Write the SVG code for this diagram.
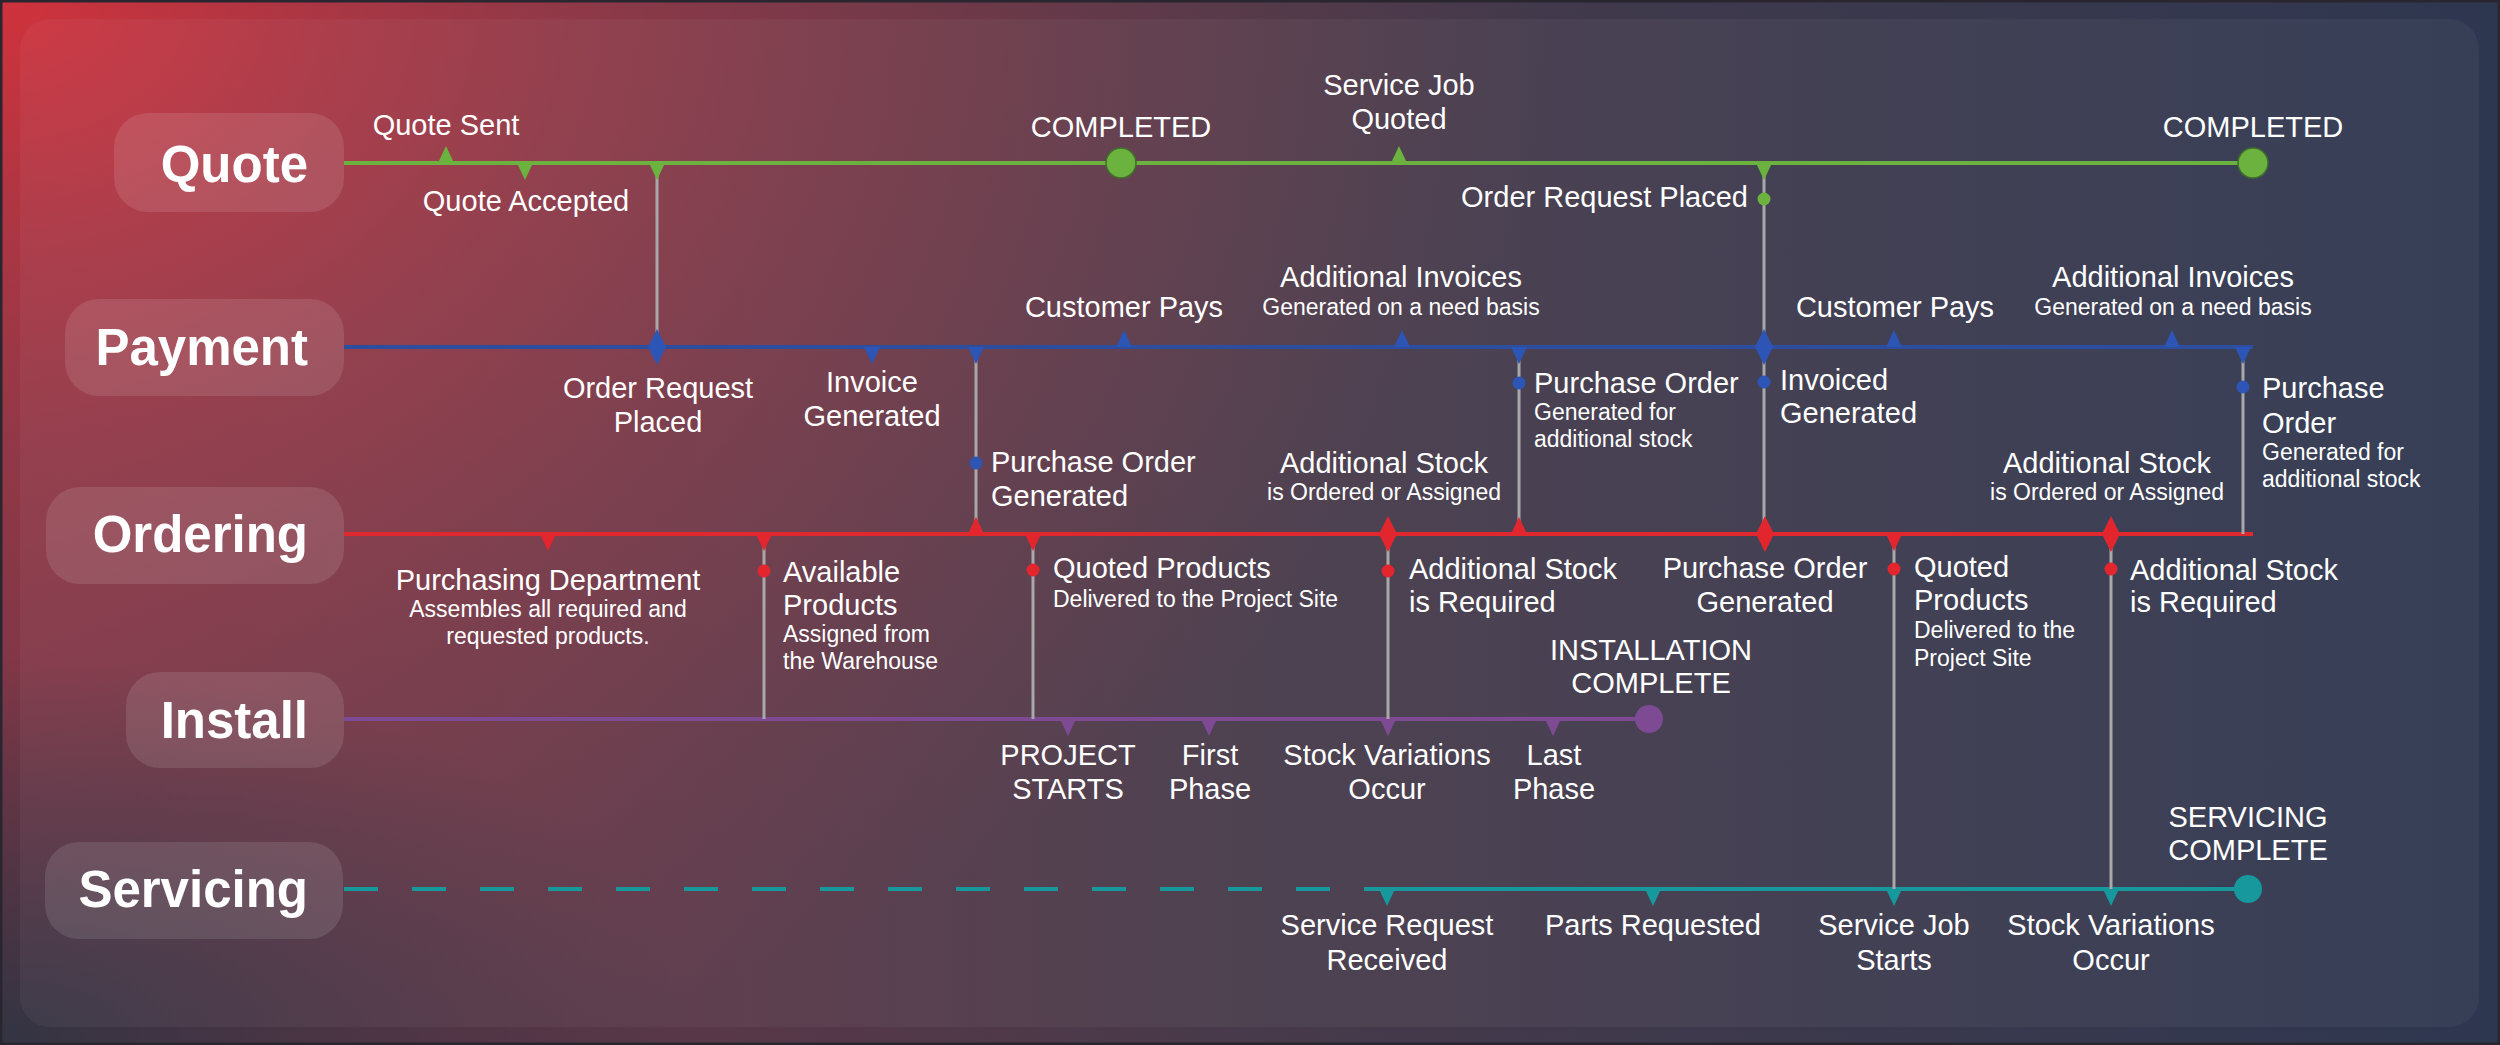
<svg xmlns="http://www.w3.org/2000/svg" width="2500" height="1045" viewBox="0 0 2500 1045">
<defs>
  <linearGradient id="bgBase" x1="0" y1="0" x2="1" y2="0">
    <stop offset="0" stop-color="#6e3446"/>
    <stop offset="0.5" stop-color="#473a4a"/>
    <stop offset="1" stop-color="#2e3750"/>
  </linearGradient>
  <radialGradient id="bgRed" gradientUnits="userSpaceOnUse" cx="0" cy="0" r="1550" gradientTransform="scale(1,0.72)">
    <stop offset="0" stop-color="#d0323c" stop-opacity="1"/>
    <stop offset="0.4" stop-color="#aa3a48" stop-opacity="0.6"/>
    <stop offset="1" stop-color="#8a3a48" stop-opacity="0"/>
  </radialGradient>
  <radialGradient id="bgDark" gradientUnits="userSpaceOnUse" cx="0" cy="1045" r="700" gradientTransform="translate(0,1045) scale(1,0.55) translate(0,-1045)">
    <stop offset="0" stop-color="#2c3442" stop-opacity="0.9"/>
    <stop offset="1" stop-color="#2c3442" stop-opacity="0"/>
  </radialGradient>
  <path id="tu" d="M-8,0 L0,-17 L8,0 Z"/>
  <path id="td" d="M-8,0 L0,17 L8,0 Z"/>
  <path id="dm" d="M0,-18 L9,0 L0,18 L-9,0 Z"/>
</defs>
<style>
  text { font-family: "Liberation Sans", Arial, sans-serif; fill: #ffffff; }
  .t { font-size: 29px; }
  .s { font-size: 23px; }
  .lane { font-size: 51px; font-weight: bold; text-anchor: end; }
  .m { text-anchor: middle; }
  .e { text-anchor: end; }
  .box { fill: #ffffff; fill-opacity: 0.11; }
  .g { fill: #6cb23f; }
  .b { fill: #2d55b5; }
  .r { fill: #e3262e; }
  .p { fill: #7e4a94; }
  .c { fill: #17989d; }
  .vl { stroke: #a8a8a8; stroke-width: 3; fill: none; }
  .ln { stroke-width: 4; fill: none; }
</style>

<!-- background -->
<rect x="0" y="0" width="2500" height="1045" fill="url(#bgBase)"/>
<rect x="0" y="0" width="2500" height="1045" fill="url(#bgRed)"/>
<rect x="0" y="0" width="2500" height="1045" fill="url(#bgDark)"/>
<rect x="1" y="1" width="2498" height="1043" fill="none" stroke="#2a2630" stroke-width="3"/>
<rect x="20" y="19" width="2459" height="1008" rx="30" fill="#ffffff" fill-opacity="0.045"/>

<!-- connectors -->
<g id="connectors">
  <path class="ln" stroke="#6cb23f" d="M344,163 H2253"/>
  <path class="ln" stroke="#2d4d9f" d="M344,347 H2253"/>
  <path class="ln" stroke="#e0282f" d="M344,534 H2253"/>
  <path class="ln" stroke="#7e4a94" d="M344,719 H1649"/>
  <path class="ln" stroke="#17989d" stroke-dasharray="34 34" d="M344,889 H1362"/>
  <path class="ln" stroke="#17989d" d="M1364,889 H2248"/>
  <path class="vl" d="M657,163 V347"/>
  <path class="vl" d="M976,347 V534"/>
  <path class="vl" d="M764,534 V719"/>
  <path class="vl" d="M1033,534 V719"/>
  <path class="vl" d="M1388,534 V719"/>
  <path class="vl" d="M1519,347 V534"/>
  <path class="vl" d="M1764,163 V534"/>
  <path class="vl" d="M2243,347 V534"/>
  <path class="vl" d="M1894,534 V889"/>
  <path class="vl" d="M2111,534 V889"/>
</g>

<!-- lane labels -->
<g id="lane-quote">
  <rect class="box" x="114" y="113" width="230" height="99" rx="34"/>
  <text class="lane" x="308" y="182">Quote</text>
</g>
<g id="lane-payment">
  <rect class="box" x="65" y="299" width="279" height="97" rx="34"/>
  <text class="lane" x="308" y="365">Payment</text>
</g>
<g id="lane-ordering">
  <rect class="box" x="46" y="487" width="298" height="97" rx="34"/>
  <text class="lane" x="308" y="552">Ordering</text>
</g>
<g id="lane-install">
  <rect class="box" x="126" y="672" width="218" height="96" rx="34"/>
  <text class="lane" x="308" y="738">Install</text>
</g>
<g id="lane-servicing">
  <rect class="box" x="45" y="842" width="298" height="97" rx="34"/>
  <text class="lane" x="308" y="907">Servicing</text>
</g>

<!-- Quote events -->
<g id="q-sent">
  <use href="#tu" x="446" y="163" class="g"/>
  <text class="t m" x="446" y="135">Quote Sent</text>
</g>
<g id="q-accepted">
  <use href="#td" x="525" y="163" class="g"/>
  <text class="t m" x="526" y="211">Quote Accepted</text>
</g>
<g id="q-order1">
  <use href="#td" x="657" y="163" class="g"/>
</g>
<g id="q-completed1">
  <circle cx="1121" cy="163" r="15" class="g" stroke="#3f6e2a" stroke-width="1.5"/>
  <text class="t m" x="1121" y="137">COMPLETED</text>
</g>
<g id="q-service-quoted">
  <use href="#tu" x="1399" y="163" class="g"/>
  <text class="t m" x="1399" y="95">Service Job</text>
  <text class="t m" x="1399" y="129">Quoted</text>
</g>
<g id="q-order2">
  <use href="#td" x="1764" y="163" class="g"/>
  <circle cx="1764" cy="199" r="6.5" class="g"/>
  <text class="t e" x="1748" y="207">Order Request Placed</text>
</g>
<g id="q-completed2">
  <circle cx="2253" cy="163" r="15" class="g" stroke="#3f6e2a" stroke-width="1.5"/>
  <text class="t m" x="2253" y="137">COMPLETED</text>
</g>

<!-- Payment events -->
<g id="p-order-request">
  <use href="#dm" x="657" y="347" class="b"/>
  <text class="t m" x="658" y="398">Order Request</text>
  <text class="t m" x="658" y="432">Placed</text>
</g>
<g id="p-invoice">
  <use href="#td" x="872" y="347" class="b"/>
  <text class="t m" x="872" y="392">Invoice</text>
  <text class="t m" x="872" y="426">Generated</text>
</g>
<g id="p-po1">
  <use href="#td" x="976" y="347" class="b"/>
  <circle cx="976" cy="463" r="6.5" class="b"/>
  <text class="t" x="991" y="472">Purchase Order</text>
  <text class="t" x="991" y="506">Generated</text>
</g>
<g id="p-pays1">
  <use href="#tu" x="1124" y="347" class="b"/>
  <text class="t m" x="1124" y="317">Customer Pays</text>
</g>
<g id="p-addinv1">
  <use href="#tu" x="1402" y="347" class="b"/>
  <text class="t m" x="1401" y="287">Additional Invoices</text>
  <text class="s m" x="1401" y="315">Generated on a need basis</text>
</g>
<g id="p-po2">
  <use href="#td" x="1519" y="347" class="b"/>
  <circle cx="1519" cy="383" r="6.5" class="b"/>
  <text class="t" x="1534" y="393">Purchase Order</text>
  <text class="s" x="1534" y="420">Generated for</text>
  <text class="s" x="1534" y="447">additional stock</text>
</g>
<g id="p-invoiced">
  <use href="#dm" x="1764" y="347" class="b"/>
  <circle cx="1764" cy="382" r="6.5" class="b"/>
  <text class="t" x="1780" y="390">Invoiced</text>
  <text class="t" x="1780" y="423">Generated</text>
</g>
<g id="p-pays2">
  <use href="#tu" x="1894" y="347" class="b"/>
  <text class="t m" x="1895" y="317">Customer Pays</text>
</g>
<g id="p-addinv2">
  <use href="#tu" x="2172" y="347" class="b"/>
  <text class="t m" x="2173" y="287">Additional Invoices</text>
  <text class="s m" x="2173" y="315">Generated on a need basis</text>
</g>
<g id="p-po3">
  <use href="#td" x="2243" y="347" class="b"/>
  <circle cx="2243" cy="387" r="6.5" class="b"/>
  <text class="t" x="2262" y="398">Purchase</text>
  <text class="t" x="2262" y="433">Order</text>
  <text class="s" x="2262" y="460">Generated for</text>
  <text class="s" x="2262" y="487">additional stock</text>
</g>

<!-- Ordering events -->
<g id="o-purchasing">
  <use href="#td" x="548" y="534" class="r"/>
  <text class="t m" x="548" y="590">Purchasing Department</text>
  <text class="s m" x="548" y="617">Assembles all required and</text>
  <text class="s m" x="548" y="644">requested products.</text>
</g>
<g id="o-available">
  <use href="#td" x="764" y="534" class="r"/>
  <circle cx="764" cy="571" r="6.5" class="r"/>
  <text class="t" x="783" y="582">Available</text>
  <text class="t" x="783" y="615">Products</text>
  <text class="s" x="783" y="642">Assigned from</text>
  <text class="s" x="783" y="669">the Warehouse</text>
</g>
<g id="o-po1">
  <use href="#tu" x="976" y="534" class="r"/>
</g>
<g id="o-quoted1">
  <use href="#td" x="1033" y="534" class="r"/>
  <circle cx="1033" cy="570" r="6.5" class="r"/>
  <text class="t" x="1053" y="578">Quoted Products</text>
  <text class="s" x="1053" y="607">Delivered to the Project Site</text>
</g>
<g id="o-addstock1">
  <use href="#dm" x="1388" y="534" class="r"/>
  <text class="t m" x="1384" y="473">Additional Stock</text>
  <text class="s m" x="1384" y="500">is Ordered or Assigned</text>
  <circle cx="1388" cy="571" r="6.5" class="r"/>
  <text class="t" x="1409" y="579">Additional Stock</text>
  <text class="t" x="1409" y="612">is Required</text>
</g>
<g id="o-po2">
  <use href="#tu" x="1519" y="534" class="r"/>
</g>
<g id="o-po3">
  <use href="#dm" x="1765" y="534" class="r"/>
  <text class="t m" x="1765" y="578">Purchase Order</text>
  <text class="t m" x="1765" y="612">Generated</text>
</g>
<g id="o-quoted2">
  <use href="#td" x="1894" y="534" class="r"/>
  <circle cx="1894" cy="569" r="6.5" class="r"/>
  <text class="t" x="1914" y="577">Quoted</text>
  <text class="t" x="1914" y="610">Products</text>
  <text class="s" x="1914" y="638">Delivered to the</text>
  <text class="s" x="1914" y="666">Project Site</text>
</g>
<g id="o-addstock2">
  <use href="#dm" x="2111" y="534" class="r"/>
  <text class="t m" x="2107" y="473">Additional Stock</text>
  <text class="s m" x="2107" y="500">is Ordered or Assigned</text>
  <circle cx="2111" cy="569" r="6.5" class="r"/>
  <text class="t" x="2130" y="580">Additional Stock</text>
  <text class="t" x="2130" y="612">is Required</text>
</g>

<!-- Install events -->
<g id="i-start">
  <use href="#td" x="1068" y="719" class="p"/>
  <text class="t m" x="1068" y="765">PROJECT</text>
  <text class="t m" x="1068" y="799">STARTS</text>
</g>
<g id="i-first">
  <use href="#td" x="1209" y="719" class="p"/>
  <text class="t m" x="1210" y="765">First</text>
  <text class="t m" x="1210" y="799">Phase</text>
</g>
<g id="i-variations">
  <use href="#td" x="1388" y="719" class="p"/>
  <text class="t m" x="1387" y="765">Stock Variations</text>
  <text class="t m" x="1387" y="799">Occur</text>
</g>
<g id="i-last">
  <use href="#td" x="1553" y="719" class="p"/>
  <text class="t m" x="1554" y="765">Last</text>
  <text class="t m" x="1554" y="799">Phase</text>
</g>
<g id="i-complete">
  <circle cx="1649" cy="719" r="14" class="p"/>
  <text class="t m" x="1651" y="660">INSTALLATION</text>
  <text class="t m" x="1651" y="693">COMPLETE</text>
</g>

<!-- Servicing events -->
<g id="s-request">
  <use href="#td" x="1387" y="889" class="c"/>
  <text class="t m" x="1387" y="935">Service Request</text>
  <text class="t m" x="1387" y="970">Received</text>
</g>
<g id="s-parts">
  <use href="#td" x="1653" y="889" class="c"/>
  <text class="t m" x="1653" y="935">Parts Requested</text>
</g>
<g id="s-job">
  <use href="#td" x="1894" y="889" class="c"/>
  <text class="t m" x="1894" y="935">Service Job</text>
  <text class="t m" x="1894" y="970">Starts</text>
</g>
<g id="s-variations">
  <use href="#td" x="2111" y="889" class="c"/>
  <text class="t m" x="2111" y="935">Stock Variations</text>
  <text class="t m" x="2111" y="970">Occur</text>
</g>
<g id="s-complete">
  <circle cx="2248" cy="889" r="14" class="c"/>
  <text class="t m" x="2248" y="827">SERVICING</text>
  <text class="t m" x="2248" y="860">COMPLETE</text>
</g>
</svg>
